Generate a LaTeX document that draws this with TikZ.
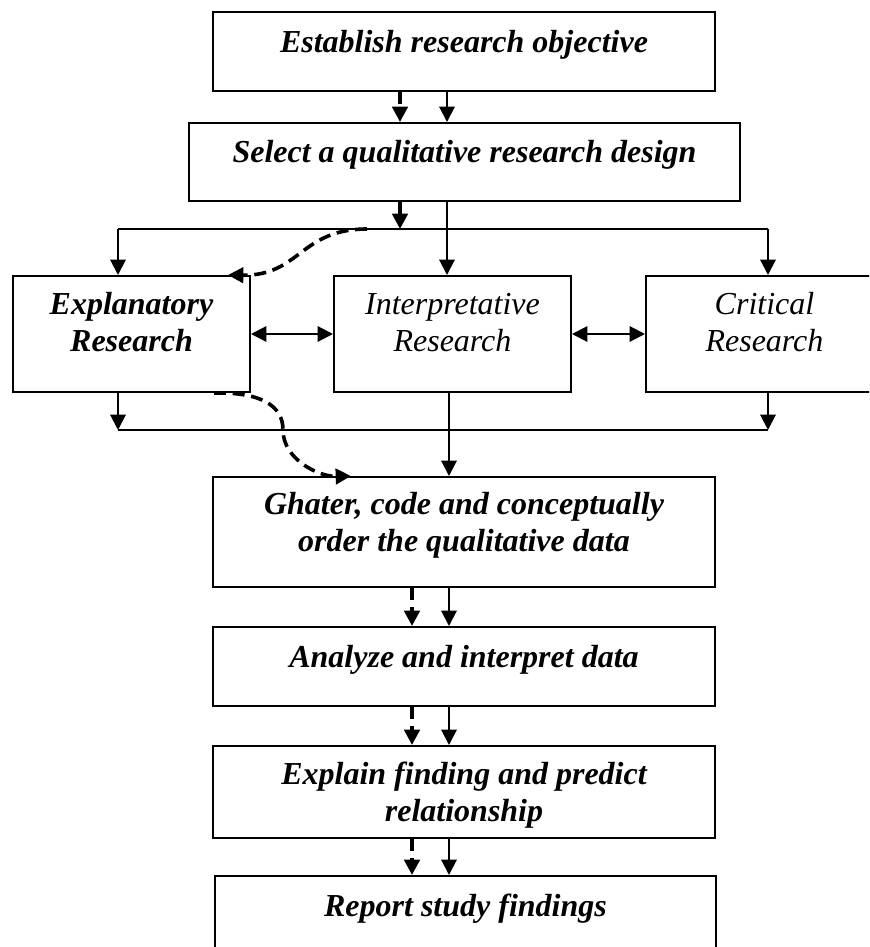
\documentclass[tikz,border=0pt]{standalone}
\usepackage{fontspec}
\setmainfont{Liberation Serif}
\usetikzlibrary{arrows.meta,positioning}

\begin{document}
\begin{tikzpicture}[x=0.75pt,y=-0.75pt,
 box/.style={draw,line width=1.5pt,inner sep=0pt},
 txt/.style={anchor=base,align=center,inner sep=0pt,
  font=\fontsize{24}{27.75}\selectfont\bfseries\itshape},
 thin/.style={txt,font=\fontsize{24}{27.75}\selectfont\itshape},
 link/.style={line width=1.5pt},
 dashlink/.style={line width=2.7pt,dash pattern=on 9pt off 5pt},
 >={Triangle[width=11.5pt,length=11.5pt]}]
\useasboundingbox (0,0) rectangle (869,947);
\clip (0,0) rectangle (869,947);
% boxes
\node[box,minimum width=376.5pt,minimum height=59.25pt] (obj) at (464,51.5) {};
\node[box,minimum width=413.25pt,minimum height=58.5pt] (des) at (464.5,162) {};
\node[box,minimum width=177.75pt,minimum height=87pt] (expl) at (131.5,334) {};
\node[box,minimum width=177.75pt,minimum height=87pt] (intp) at (452.5,334) {};
\node[box,minimum width=177.75pt,minimum height=87pt] (crit) at (764.5,334) {};
\node[box,minimum width=376.5pt,minimum height=82.5pt] (gath) at (464,532) {};
\node[box,minimum width=376.5pt,minimum height=59.25pt] (anal) at (464,666.5) {};
\node[box,minimum width=376.5pt,minimum height=69pt] (expn) at (464,792) {};
\node[box,minimum width=375.75pt,minimum height=63pt] (rep) at (465.5,918) {};
% texts (base = last line)
\node[txt] (obj-t) at ([yshift=-30.75pt]obj.north) {Establish research objective};
\node[txt] (des-t) at ([yshift=-30pt]des.north) {Select a qualitative research design};
\node[txt] (expl-t) at ([yshift=-57pt]expl.north) {Explanatory\\Research};
\node[thin] (intp-t) at ([yshift=-57pt]intp.north) {Interpretative\\Research};
\node[thin] (crit-t) at ([yshift=-57pt]crit.north) {Critical\\Research};
\node[txt] (gath-t) at ([yshift=-56.25pt]gath.north) {Ghater, code and conceptually\\order the qualitative data};
\node[txt] (anal-t) at ([yshift=-30.75pt]anal.north) {Analyze and interpret data};
\node[txt] (expn-t) at ([yshift=-57pt]expn.north) {Explain finding and predict\\relationship};
\node[txt] (rep-t) at ([yshift=-30.75pt]rep.north) {Report study findings};
% columns and junctions
\coordinate (dashA) at (400,0);
\coordinate (solA) at (447,0);
\coordinate (dashB) at (412,0);
\coordinate (solB) at (449,0);
\coordinate (topl) at (118,229);
\coordinate (topr) at (768,229);
\coordinate (botl) at (118,430);
\coordinate (botr) at (768,430);
\coordinate (fork) at (367,229);
% upper part
\draw[dashlink,->] (obj.south -| dashA) -- (des.north -| dashA);
\draw[link,->] (obj.south -| solA) -- (des.north -| solA);
\draw[dashlink,->] (des.south -| dashA) -- (topl -| dashA);
\draw[link,->] (des.south -| solA) -- (intp.north -| solA);
\draw[link] (topl) -- (topr);
\draw[link,->] (topl) -- (topl |- expl.north);
\draw[link,->] (topr) -- (topr |- crit.north);
\draw[dashlink,->] (fork) .. controls (300,229) and (300,276) .. ([xshift=-17.25pt]expl.north east);
% the three designs
\draw[link,{Triangle[width=11.5pt,length=11.5pt]}-{Triangle[width=11.5pt,length=11.5pt]}] (expl) -- (intp);
\draw[link,{Triangle[width=11.5pt,length=11.5pt]}-{Triangle[width=11.5pt,length=11.5pt]}] (intp) -- (crit);
\draw[link,->] (botl |- expl.south) -- (botl);
\draw[link,->] (botr |- crit.south) -- (botr);
\draw[link] (botl) -- (botr);
\draw[link,->] (intp.south -| solB) -- (gath.north -| solB);
\draw[dashlink,->] ([xshift=-27.75pt]expl.south east) .. controls (260,392) and (283,405) .. (283,430)
 .. controls (283,460) and (320,477) .. ([xshift=104.25pt]gath.north west);
% lower part
\draw[dashlink,->] (gath.south -| dashB) -- (anal.north -| dashB);
\draw[link,->] (gath.south -| solB) -- (anal.north -| solB);
\draw[dashlink,->] (anal.south -| dashB) -- (expn.north -| dashB);
\draw[link,->] (anal.south -| solB) -- (expn.north -| solB);
\draw[dashlink,->] (expn.south -| dashB) -- (rep.north -| dashB);
\draw[link,->] (expn.south -| solB) -- (rep.north -| solB);
\end{tikzpicture}
\end{document}
